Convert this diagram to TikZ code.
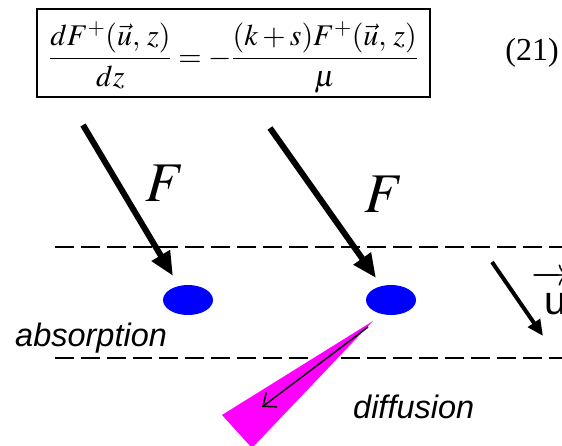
\documentclass[tikz,border=0pt]{standalone}
\usepackage{mathptmx}
\usepackage[no-math]{fontspec}
\setmainfont{Liberation Serif}
\setsansfont{Liberation Sans}
\usetikzlibrary{arrows.meta,shapes.geometric}
\definecolor{mag}{RGB}{255,0,255}
\definecolor{blu}{RGB}{0,0,255}
\begin{document}
\begin{tikzpicture}[x=1pt,y=-1pt,
  bigarrow/.style={line width=6pt,-{Triangle[width=20pt,length=24pt]}},
  uarrow/.style={line width=4pt,-{Triangle[width=14pt,length=16pt]}},
  thinarrow/.style={line width=1.5pt,-{Straight Barb[length=11pt,width=18pt,line width=1.5pt]}},
  layer/.style={line width=2.5pt,dash pattern=on 19pt off 7pt},
  blob/.style={ellipse,fill=blu,minimum width=50pt,minimum height=30pt,inner sep=0pt},
  lab/.style={font=\fontsize{32.5}{36}\sffamily\itshape,inner sep=0pt},
  bigF/.style={font=\fontsize{56}{60}\selectfont,inner sep=0pt}]
\useasboundingbox (0,0) rectangle (562,445);
% equation
\node[draw,line width=2.5pt,minimum width=393pt,minimum height=88pt,inner sep=0pt] (eqbox) at (233.5,53) {};
\node[font=\fontsize{30}{36}\selectfont,inner sep=0pt,anchor=base] (eq) at (233.5,66)
  {$\displaystyle \frac{dF^{+}(\vec{u},\,z)}{dz}=-\frac{(k+s)F^{+}(\vec{u},\,z)}{\mu}$};
\node[font=\fontsize{32}{36}\selectfont,inner sep=0pt] (num) at (532,53) {(21)};
% layers
\coordinate (l1a) at (55,247); \coordinate (l1b) at (562,247);
\coordinate (l2a) at (55,358); \coordinate (l2b) at (562,358);
\draw[layer] (l1a) -- (l1b);
\draw[layer] (l2a) -- (l2b);
% particles
\node[blob] (p1) at (188,300) {};
\node[blob] (p2) at (391,300) {};
% diffusion cone
\coordinate (c0) at (373,321);
\coordinate (c1) at (222,415);
\coordinate (c2) at (252,448);
\fill[mag] (c0) -- (c1) -- (c2) -- cycle;
\coordinate (d0) at (368,327);
\coordinate (d1) at (262,407);
\draw[thinarrow] (d0) -- (d1);
% incoming fluxes
\coordinate (f1s) at (83,125); \coordinate (f1e) at (173,276);
\coordinate (f2s) at (270,128); \coordinate (f2e) at (376,278);
\draw[bigarrow] (f1s) -- (f1e);
\draw[bigarrow] (f2s) -- (f2e);
\node[bigF] (F1) at (165,183) {$F$};
\node[bigF] (F2) at (384,194) {$F$};
% direction u
\coordinate (u0) at (492,262); \coordinate (u1) at (543,336);
\draw[uarrow] (u0) -- (u1);
\node[font=\fontsize{40}{44}\selectfont,inner sep=0pt,anchor=base west] (ulab) at (531,314)
  {$\overrightarrow{\mbox{\sffamily\hspace{8pt}\rule{0pt}{0.75em}u}}$};
% labels
\node[lab,anchor=base west] (abs) at (15,346) {absorption};
\node[lab,anchor=base west] (dif) at (353,418) {diffusion};
\end{tikzpicture}
\end{document}
